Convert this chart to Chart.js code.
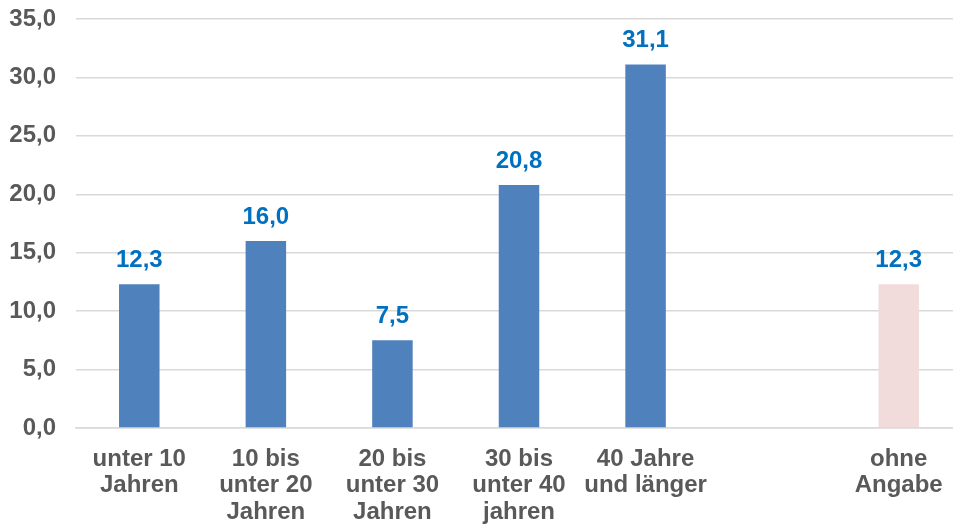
<!DOCTYPE html>
<html lang="de">
<head>
  <meta charset="UTF-8">
  <title>Balkendiagramm</title>
  <script src="https://cdn.jsdelivr.net/npm/chart.js"></script>
  <style>
    html, body {
      margin: 0;
      padding: 0;
      overflow: hidden;
      background: #FFFFFF;
    }
    .grafico {
      width: 962px;
      height: 526px;
    }
  </style>
</head>
<body>
  <div class="grafico">
    <canvas id="meuGrafico"></canvas>
  </div>

<script>
  // categorias (a sexta fica vazia, como no original)
  var categorias = [
    ['unter 10', 'Jahren'],
    ['10 bis', 'unter 20', 'Jahren'],
    ['20 bis', 'unter 30', 'Jahren'],
    ['30 bis', 'unter 40', 'jahren'],
    ['40 Jahre', 'und länger'],
    '',
    ['ohne', 'Angabe']
  ];
  var valores = [12.3, 16.0, 7.5, 20.8, 31.1, null, 12.3];
  var cores = ['#4F81BD', '#4F81BD', '#4F81BD', '#4F81BD', '#4F81BD', '#4F81BD', '#F2DCDB'];

  function formatar(v) {
    return v.toFixed(1).replace('.', ',');
  }

  // desenha os valores acima das barras
  const rotulosValores = {
    id: 'rotulosValores',
    afterDatasetsDraw(chart) {
      const ctx = chart.ctx;
      const meta = chart.getDatasetMeta(0);
      ctx.save();
      ctx.font = 'bold 24px "Liberation Sans", Arial, sans-serif';
      ctx.fillStyle = '#0070C0';
      ctx.textAlign = 'center';
      ctx.textBaseline = 'middle';
      meta.data.forEach(function (barra, i) {
        if (valores[i] == null) return;
        ctx.fillText(formatar(valores[i]), barra.x, barra.y - 24);
      });
      ctx.restore();
    }
  };

  const ctx = document.getElementById('meuGrafico');
  const meuGrafico = new Chart(ctx, {
    type: 'bar',
    data: {
      labels: categorias,
      datasets: [{
        data: valores,
        backgroundColor: cores,
        barPercentage: 0.32,
        categoryPercentage: 1.0
      }]
    },
    options: {
      responsive: true,
      maintainAspectRatio: false,
      animation: false,
      layout: {
        padding: { top: 19, left: 9, right: 0, bottom: 1 }
      },
      plugins: {
        legend: { display: false },
        tooltip: { enabled: false }
      },
      scales: {
        x: {
          grid: { display: false, drawTicks: false },
          border: { display: true, color: '#D9D9D9', width: 1.5 },
          ticks: {
            color: '#595959',
            padding: 18,
            maxRotation: 0,
            autoSkip: false,
            font: { family: '"Liberation Sans", Arial, sans-serif', size: 24, weight: 'bold', lineHeight: 1.1 }
          },
          afterFit: function (escala) {
            escala.height = 97;
            escala.paddingLeft = 0;
            escala.paddingRight = 0;
          }
        },
        y: {
          min: 0,
          max: 35,
          grid: { color: '#D9D9D9', lineWidth: 1.5, drawTicks: false },
          border: { display: false },
          ticks: {
            stepSize: 5,
            color: '#595959',
            padding: 20,
            font: { family: '"Liberation Sans", Arial, sans-serif', size: 24, weight: 'bold' },
            callback: function (v) { return formatar(v); }
          },
          afterFit: function (escala) {
            escala.width = 67;
            escala.paddingTop = 0;
            escala.paddingBottom = 0;
          }
        }
      }
    },
    plugins: [rotulosValores]
  });
</script>
</body>
</html>
